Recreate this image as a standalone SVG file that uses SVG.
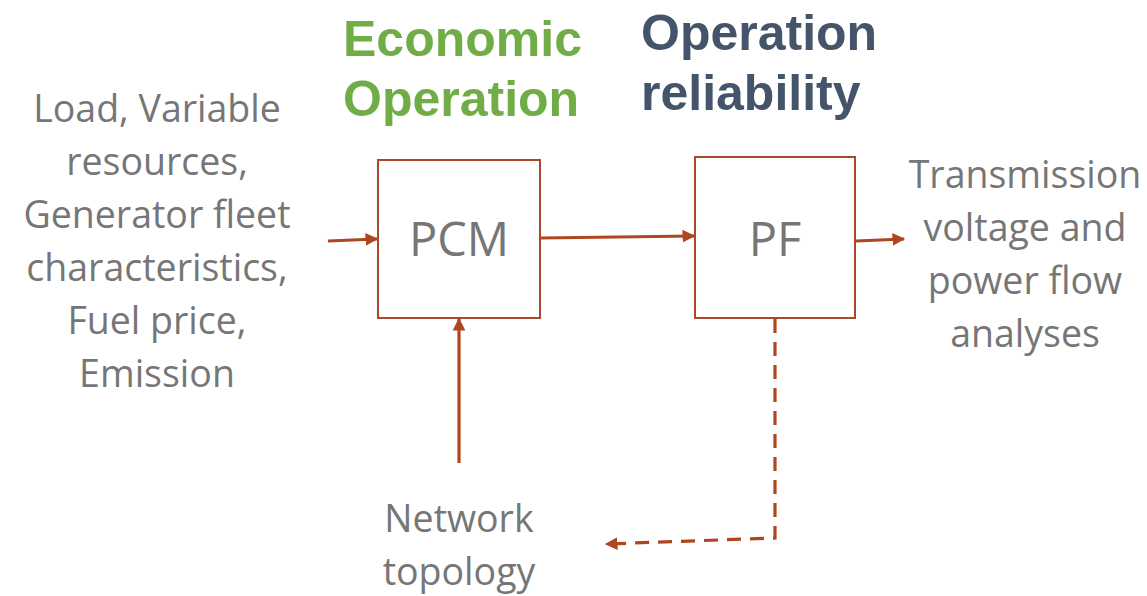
<svg xmlns="http://www.w3.org/2000/svg" width="1147" height="596" viewBox="0 0 1147 596">
<style>
.lbl{font-family:"Open Sans","Liberation Sans",sans-serif;font-size:37.5px;fill:#767676;text-anchor:middle}
.box{fill:#fff;stroke:#a9482a;stroke-width:2}
.in{font-family:"Open Sans","Liberation Sans",sans-serif;font-size:47px;fill:#767676;text-anchor:middle}
.ttl{font-family:"Liberation Sans",Arial,sans-serif;font-size:50px;font-weight:bold}
.con{stroke:#b0461f;stroke-width:3.2;fill:none}
</style>
<defs>
<marker id="ah" viewBox="0 0 10 10" refX="9" refY="5" markerWidth="4" markerHeight="4" orient="auto" markerUnits="strokeWidth">
<path d="M0,0 L10,5 L0,10 z" fill="#b0461f"/>
</marker>
</defs>
<rect width="1147" height="596" fill="#fff"/>
<g id="title-economic">
<text class="ttl" x="343" y="56" fill="#70ad47">Economic</text>
<text class="ttl" x="343" y="116" fill="#70ad47">Operation</text>
</g>
<g id="title-reliability">
<text class="ttl" x="641" y="50" fill="#44546a">Operation</text>
<text class="ttl" x="641" y="110" fill="#44546a">reliability</text>
</g>
<g id="inputs">
<text class="lbl" x="157" y="122">Load, Variable</text>
<text class="lbl" x="157" y="175">resources,</text>
<text class="lbl" x="157" y="228">Generator fleet</text>
<text class="lbl" x="157" y="281">characteristics,</text>
<text class="lbl" x="157" y="334">Fuel price,</text>
<text class="lbl" x="157" y="387">Emission</text>
</g>
<g id="pcm">
<rect class="box" x="378" y="160" width="162" height="158"/>
<text class="in" x="459" y="256">PCM</text>
</g>
<g id="pf">
<rect class="box" x="695" y="157" width="160" height="161"/>
<text class="in" x="775" y="256">PF</text>
</g>
<g id="outputs">
<text class="lbl" x="1025" y="188">Transmission</text>
<text class="lbl" x="1025" y="241">voltage and</text>
<text class="lbl" x="1025" y="294">power flow</text>
<text class="lbl" x="1025" y="347">analyses</text>
</g>
<g id="network">
<text class="lbl" x="459" y="532">Network</text>
<text class="lbl" x="459" y="585">topology</text>
</g>
<g id="connectors">
<path class="con" d="M328,241 L377,239" marker-end="url(#ah)"/>
<path class="con" d="M541,238 L694,236" marker-end="url(#ah)"/>
<path class="con" d="M856,241 L904,239" marker-end="url(#ah)"/>
<path class="con" d="M459,463 L459,319" marker-end="url(#ah)"/>
<path class="con" d="M775,319 L775,538 L606,544" stroke-dasharray="14,9" marker-end="url(#ah)"/>
</g>
</svg>
